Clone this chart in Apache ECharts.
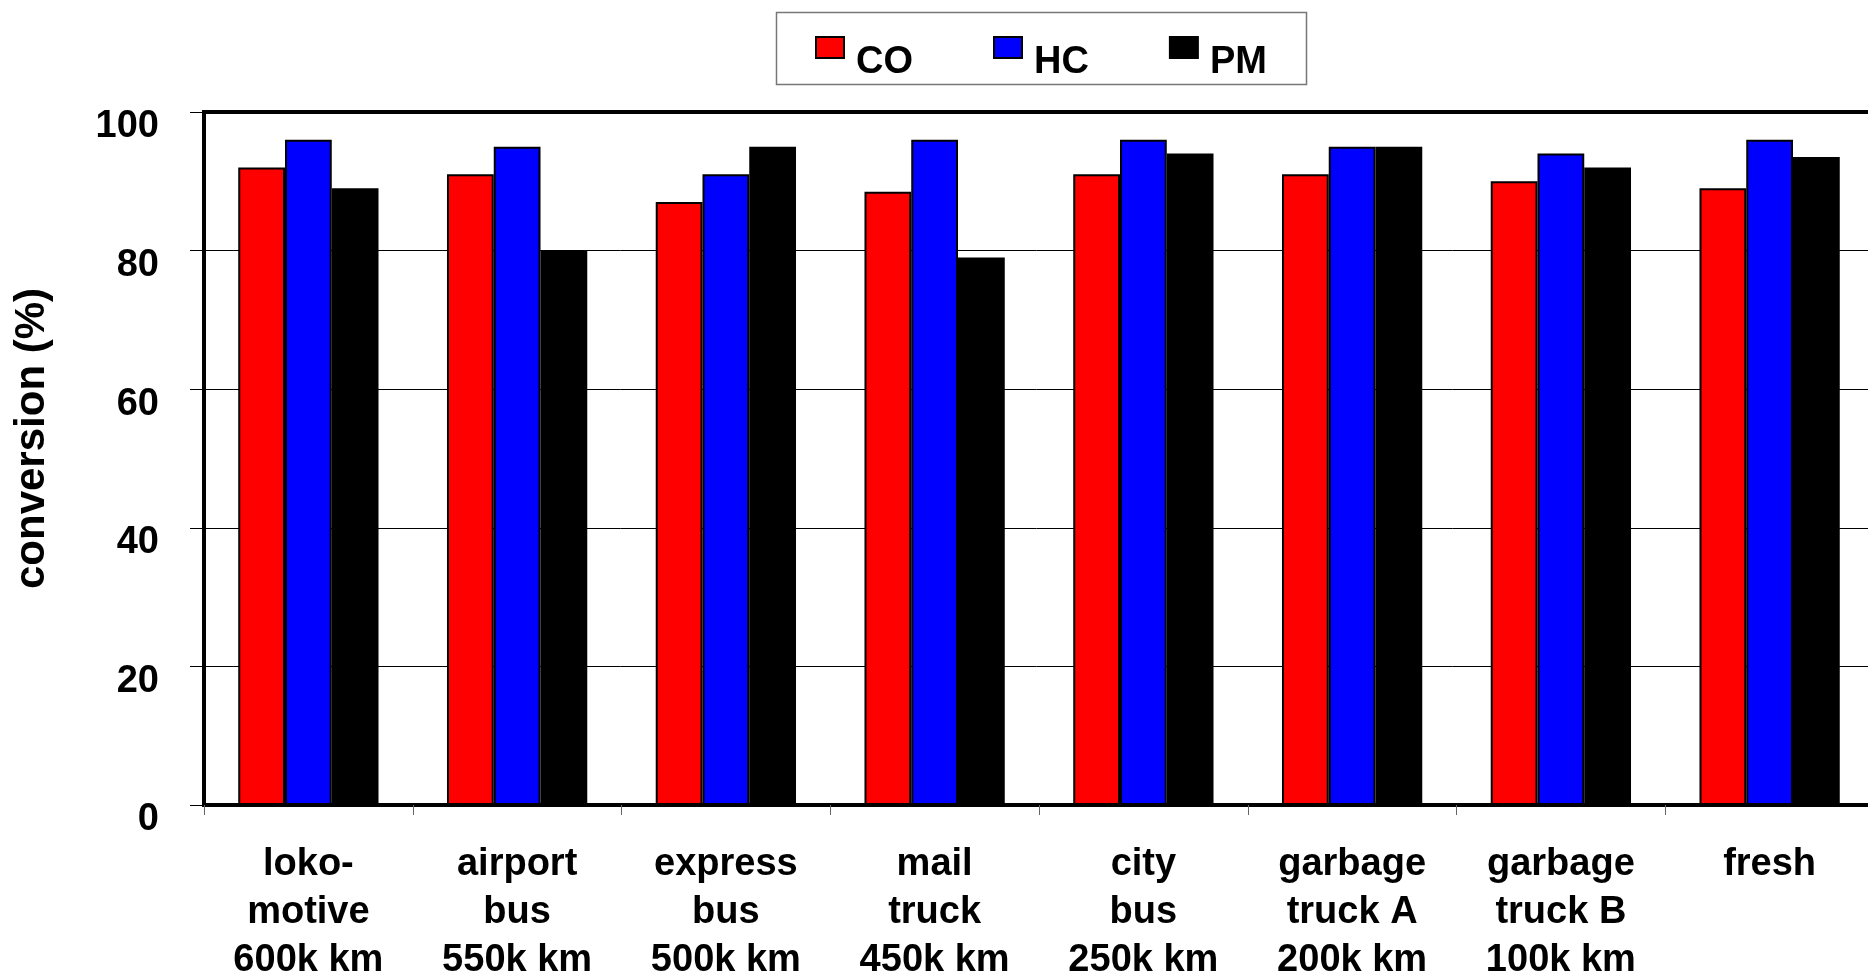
<!DOCTYPE html>
<html>
<head>
<meta charset="utf-8">
<title>Catalyst conversion by vehicle</title>
<script src="https://cdn.jsdelivr.net/npm/echarts@6/dist/echarts.min.js"></script>
<style>
  html, body { margin: 0; padding: 0; background: #fff; }
  #chart { width: 1868px; height: 979px; }
</style>
</head>
<body>
<div id="chart"></div>
<script>
// Vehicle / mileage categories (line breaks are part of the label)
const categories = [
  'loko-\nmotive\n600k km',
  'airport\nbus\n550k km',
  'express\nbus\n500k km',
  'mail\ntruck\n450k km',
  'city\nbus\n250k km',
  'garbage\ntruck A\n200k km',
  'garbage\ntruck B\n100k km',
  'fresh'
];

// Conversion (%) per pollutant
const coValues = [92, 91, 87, 88.5, 91, 91, 90, 89];
const hcValues = [96, 95, 91, 96, 96, 95, 94, 96];
const pmValues = [89, 80, 95, 79, 94, 95, 92, 93.5];

const seriesNames = ['CO', 'HC', 'PM'];
const yTicks = [0, 20, 40, 60, 80, 100];

const FONT = "'Liberation Sans', Arial, Helvetica, sans-serif";
const chart = echarts.init(document.getElementById('chart'), null, { renderer: 'canvas' });

function barSeries(name, values, color) {
  return {
    name: name,
    type: 'bar',
    data: values,
    barWidth: '22.4%',
    barGap: '0%',
    itemStyle: { color: color, borderColor: '#000', borderWidth: 2 },
    emphasis: { disabled: true }
  };
}

chart.setOption({
  backgroundColor: '#fff',
  animation: false,
  textStyle: { fontFamily: FONT },
  // frame around the legend entries
  graphic: [{
    type: 'rect',
    z: 0,
    silent: true,
    shape: { x: 776.5, y: 12.5, width: 530, height: 72 },
    style: { fill: 'none', stroke: '#777', lineWidth: 1.5 }
  }],
  legend: {
    data: seriesNames,
    left: 815,
    top: 36,
    orient: 'horizontal',
    icon: 'rect',
    padding: 0,
    itemGap: 80,
    itemWidth: 28,
    itemHeight: 21,
    borderWidth: 0,
    selectedMode: false,
    itemStyle: { borderColor: '#000', borderWidth: 2 },
    formatter: '{t|{name}}',
    textStyle: {
      fontFamily: FONT,
      fontWeight: 'bold',
      fontSize: 38,
      color: '#000',
      rich: {
        t: {
          fontFamily: FONT,
          fontWeight: 'bold',
          fontSize: 38,
          color: '#000',
          padding: [30, 0, 0, 7]
        }
      }
    }
  },
  grid: {
    left: 204,
    top: 112,
    right: -6,
    bottom: 174,
    show: true,
    borderColor: '#000',
    borderWidth: 4,
    containLabel: false,
    outerBoundsMode: 'none'
  },
  xAxis: {
    type: 'category',
    data: categories,
    axisLine: { show: true, lineStyle: { color: '#000', width: 4 } },
    axisTick: { show: true, alignWithLabel: false, length: 10, lineStyle: { color: '#666', width: 1 } },
    axisLabel: {
      interval: 0,
      margin: 36,
      color: '#000',
      fontFamily: FONT,
      fontWeight: 'bold',
      fontSize: 38,
      lineHeight: 48
    },
    splitLine: { show: false }
  },
  yAxis: {
    type: 'value',
    min: yTicks[0],
    max: yTicks[yTicks.length - 1],
    interval: 20,
    name: 'conversion (%)',
    nameLocation: 'middle',
    nameRotate: 90,
    nameGap: 151,
    nameTextStyle: {
      color: '#000',
      fontFamily: FONT,
      fontWeight: 'bold',
      fontSize: 42,
      padding: [0, 0, 0, 40]
    },
    axisLine: { show: true, lineStyle: { color: '#000', width: 4 } },
    axisTick: { show: true, inside: false, length: 14, lineStyle: { color: '#000', width: 1 } },
    axisLabel: {
      margin: 45,
      formatter: '{v|{value}}',
      rich: {
        v: {
          color: '#000',
          fontFamily: FONT,
          fontWeight: 'bold',
          fontSize: 38,
          padding: [30, 0, 0, 0]
        }
      }
    },
    splitLine: { show: true, lineStyle: { color: '#000', width: 1 } }
  },
  series: [
    barSeries(seriesNames[0], coValues, '#ff0000'),
    barSeries(seriesNames[1], hcValues, '#0000ff'),
    barSeries(seriesNames[2], pmValues, '#000000')
  ]
});
</script>
</body>
</html>
